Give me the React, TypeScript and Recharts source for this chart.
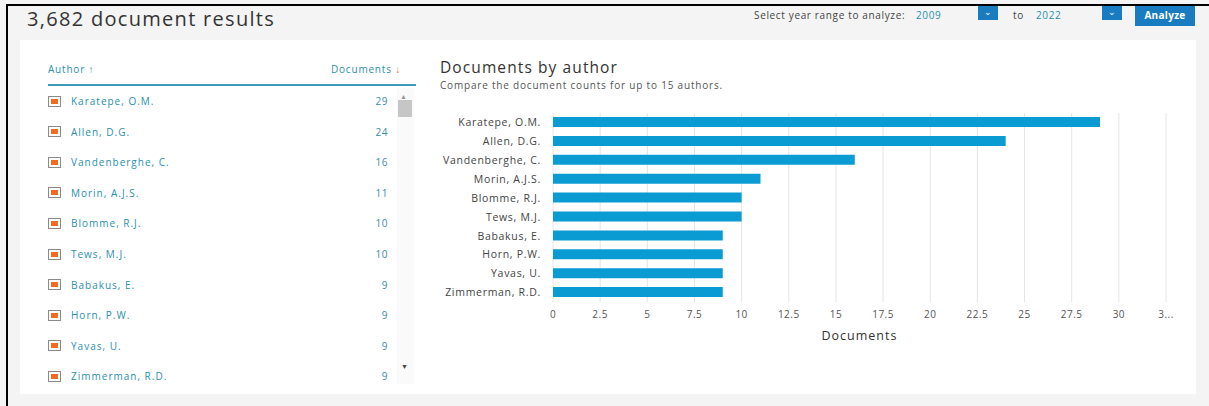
import React from "react";
import { BarChart, Bar, XAxis, YAxis, CartesianGrid } from "recharts";

const authors = [
  "Karatepe, O.M.",
  "Allen, D.G.",
  "Vandenberghe, C.",
  "Morin, A.J.S.",
  "Blomme, R.J.",
  "Tews, M.J.",
  "Babakus, E.",
  "Horn, P.W.",
  "Yavas, U.",
  "Zimmerman, R.D.",
];
const documentCounts = [29, 24, 16, 11, 10, 10, 9, 9, 9, 9];
const xTicks = [0, 2.5, 5, 7.5, 10, 12.5, 15, 17.5, 20, 22.5, 25, 27.5, 30, 32.5];

const FONT = "'Open Sans', 'Noto Sans', sans-serif";
const TEAL = "#2b8fae";
const BAR = "#0a9bd2";

const chartData = authors.map((name, i) => ({ name, documents: documentCounts[i] }));

const CheckIcon = () => (
  <div
    style={{
      width: 11,
      height: 9,
      border: "1px solid #8a8a8a",
      background: "#fff",
      display: "flex",
      alignItems: "center",
      justifyContent: "center",
      flexShrink: 0,
    }}
  >
    <div style={{ width: 7, height: 5, background: "#f26b21" }} />
  </div>
);

const dropdown = (left: number) => (
  <div
    style={{
      position: "absolute",
      left,
      top: 6,
      width: 20,
      height: 14,
      background: "#1a7cc0",
      color: "#fff",
      fontSize: 9,
      textAlign: "center",
      lineHeight: "12px",
    }}
  >
    ⌄
  </div>
);

const App = () => {
  return (
    <div
      style={{
        position: "fixed",
        left: 0,
        top: 0,
        width: 1209,
        height: 406,
        background: "#f4f4f4",
        fontFamily: FONT,
        overflow: "hidden",
      }}
    >
      {/* frame lines */}
      <div style={{ position: "absolute", left: 6, top: 4, width: 1203, height: 2, background: "#000" }} />
      <div style={{ position: "absolute", left: 6, top: 4, width: 2, height: 402, background: "#000" }} />

      <div style={{ position: "absolute", left: 27, top: 5, fontSize: 20, letterSpacing: 1.3, color: "#333" }}>
        3,682 document results
      </div>

      {/* year range controls */}
      <div style={{ position: "absolute", left: 754, top: 8, fontSize: 10, letterSpacing: 0.65, color: "#444" }}>
        Select year range to analyze:
      </div>
      <div style={{ position: "absolute", left: 916, top: 8, fontSize: 10, letterSpacing: 0.6, color: TEAL }}>2009</div>
      {dropdown(978)}
      <div style={{ position: "absolute", left: 1013, top: 8, fontSize: 10, letterSpacing: 0.6, color: "#444" }}>to</div>
      <div style={{ position: "absolute", left: 1036, top: 8, fontSize: 10, letterSpacing: 0.6, color: TEAL }}>2022</div>
      {dropdown(1102)}
      <div
        style={{
          position: "absolute",
          left: 1135,
          top: 6,
          width: 60,
          height: 20,
          background: "#1a7cc0",
          color: "#fff",
          fontSize: 10,
          fontWeight: 700,
          letterSpacing: 0.3,
          textAlign: "center",
          lineHeight: "19px",
        }}
      >
        Analyze
      </div>

      {/* card */}
      <div style={{ position: "absolute", left: 20, top: 40, width: 1176, height: 354, background: "#fff" }} />

      {/* author list */}
      <div style={{ position: "absolute", left: 48, top: 62, fontSize: 10, letterSpacing: 0.8, color: TEAL }}>
        Author ↑
      </div>
      <div style={{ position: "absolute", left: 331, top: 62, fontSize: 10, letterSpacing: 0.8, color: TEAL }}>
        Documents <span style={{ color: "#f26b21", fontWeight: 700 }}>↓</span>
      </div>
      <div style={{ position: "absolute", left: 48, top: 84, width: 368, height: 2, background: "#3d9bb9" }} />

      <div style={{ position: "absolute", left: 40, top: 88, width: 376, height: 296, overflow: "hidden" }}>
        {chartData.map((d, i) => (
          <div
            key={d.name}
            style={{
              position: "absolute",
              left: 8,
              top: 5 + i * 30.6,
              width: 340,
              height: 16,
              display: "flex",
              alignItems: "center",
            }}
          >
            <CheckIcon />
            <span style={{ marginLeft: 10, fontSize: 10, letterSpacing: 1, color: TEAL }}>{d.name}</span>
            <span style={{ position: "absolute", right: 0, fontSize: 10, letterSpacing: 0.5, color: "#3a8ca6" }}>
              {d.documents}
            </span>
          </div>
        ))}
        {/* scrollbar */}
        <div style={{ position: "absolute", left: 357, top: 0, width: 17, height: 296, background: "#fafafa" }} />
        <div style={{ position: "absolute", left: 360, top: 4, fontSize: 7, color: "#999" }}>▲</div>
        <div style={{ position: "absolute", left: 358, top: 12, width: 14, height: 17, background: "#c6c6c6" }} />
        <div style={{ position: "absolute", left: 361, top: 274, fontSize: 7, color: "#444" }}>▼</div>
      </div>

      {/* chart header */}
      <div style={{ position: "absolute", left: 440, top: 56, fontSize: 15.5, letterSpacing: 1.1, color: "#333" }}>
        Documents by author
      </div>
      <div style={{ position: "absolute", left: 440, top: 78, fontSize: 10, letterSpacing: 0.8, color: "#555" }}>
        Compare the document counts for up to 15 authors.
      </div>

      <div style={{ position: "absolute", left: 420, top: 100 }}>
        <BarChart
          width={780}
          height={250}
          data={chartData}
          layout="vertical"
          margin={{ top: 13, right: 34, bottom: 8, left: 0 }}
          barCategoryGap={4}
        >
          <CartesianGrid horizontal={false} vertical stroke="#e4e4e4" />
          <XAxis
            type="number"
            domain={[0, 32.5]}
            ticks={xTicks}
            interval={0}
            axisLine={false}
            tickLine={false}
            tickSize={0}
            tickMargin={9}
            height={40}
            tick={{ fontSize: 10, fill: "#555", fontFamily: FONT, letterSpacing: 0.5 }}
            tickFormatter={(v: number) => (v === 32.5 ? "3..." : String(v))}
            label={{
              value: "Documents",
              position: "insideBottom",
              offset: 2,
              fontSize: 12.5,
              fill: "#333",
              fontFamily: FONT,
              letterSpacing: 1,
            }}
          />
          <YAxis
            type="category"
            dataKey="name"
            width={133}
            axisLine={false}
            tickLine={false}
            tickSize={0}
            tickMargin={12}
            interval={0}
            tick={{ fontSize: 10.5, fill: "#444", fontFamily: FONT, letterSpacing: 0.7 }}
          />
          <Bar dataKey="documents" fill={BAR} barSize={10} isAnimationActive={false} />
        </BarChart>
      </div>
    </div>
  );
};

export default App;
